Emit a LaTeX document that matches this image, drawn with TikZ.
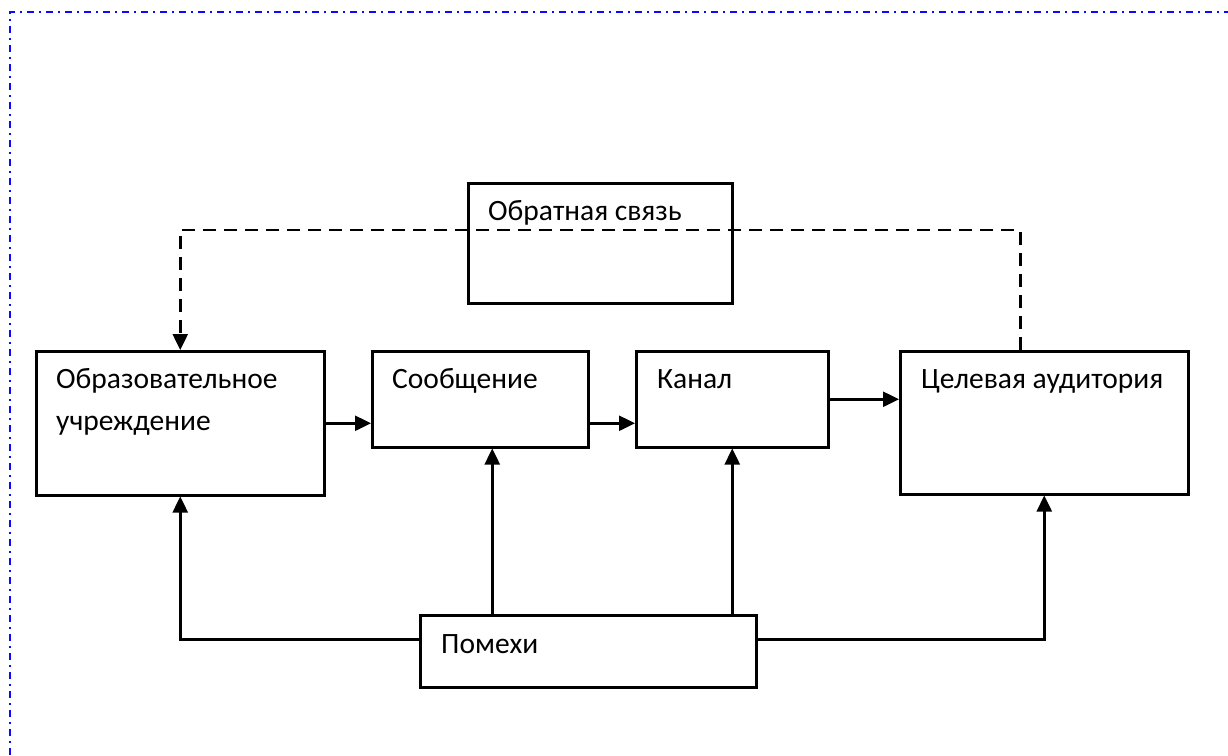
\documentclass[tikz,border=0pt]{standalone}
\usepackage{fontspec}
\setmainfont{Carlito}
\usetikzlibrary{arrows.meta}
\definecolor{frameblue}{RGB}{10,10,255}
\begin{document}
\begin{tikzpicture}[x=1pt,y=-1pt,
  box/.style={draw=black,line width=2.5pt,rectangle,inner sep=0pt,anchor=north west},
  txt/.style={anchor=base west,inner sep=0pt,font=\fontsize{29.5}{42}\selectfont,text=black},
  tip/.style={-{Triangle[length=16pt,width=15pt]}},
  arr/.style={line width=2.5pt,tip},
  dashline/.style={line width=2.5pt,dash pattern=on 13pt off 8pt},
  framestyle/.style={draw=frameblue,line width=2pt,dash pattern=on 7pt off 5pt on 2pt off 5pt}]
\useasboundingbox (0,0) rectangle (1228,755);
% frame
\draw[framestyle] (10,755) -- (10,12) -- (1228,12);
% boxes
\node[box,minimum width=264pt,minimum height=120pt] (fb) at (467,182) {};
\node[box,minimum width=288pt,minimum height=144pt] (org) at (35,350) {};
\node[box,minimum width=216pt,minimum height=96pt] (msg) at (371,350) {};
\node[box,minimum width=192pt,minimum height=96pt] (kan) at (635,350) {};
\node[box,minimum width=288pt,minimum height=143pt] (aud) at (899,350) {};
\node[box,minimum width=336pt,minimum height=72pt] (pom) at (419,614) {};
% texts
\node[txt] (tfb) at (488,220) {Обратная связь};
\node[txt,align=left] (torg) at (56,430) {Образовательное\\учреждение};
\node[txt] (tmsg) at (392,388) {Сообщение};
\node[txt] (tkan) at (657,388) {Канал};
\node[txt] (taud) at (921,388) {Целевая аудитория};
\node[txt] (tpom) at (441,653) {Помехи};
% connectors
\coordinate (fbline) at (0,230);
\draw[arr] (org.east) -- (org.east -| msg.west);
\draw[arr] (msg.east |- org.east) -- (kan.west |- org.east);
\draw[arr] (kan.east) -- (kan.east -| aud.west);
\draw[dashline,tip] ([xshift=-24pt]aud.north) |- (org.north |- fbline) -- (org.north);
\draw[arr] ([yshift=12pt]pom.west) -| (org.south);
\draw[arr] ([yshift=12pt]pom.east) -| (aud.south);
\draw[arr] ([xshift=12pt]msg.south |- pom.north) -- ([xshift=12pt]msg.south);
\draw[arr] (kan.south |- pom.north) -- (kan.south);
\end{tikzpicture}
\end{document}
